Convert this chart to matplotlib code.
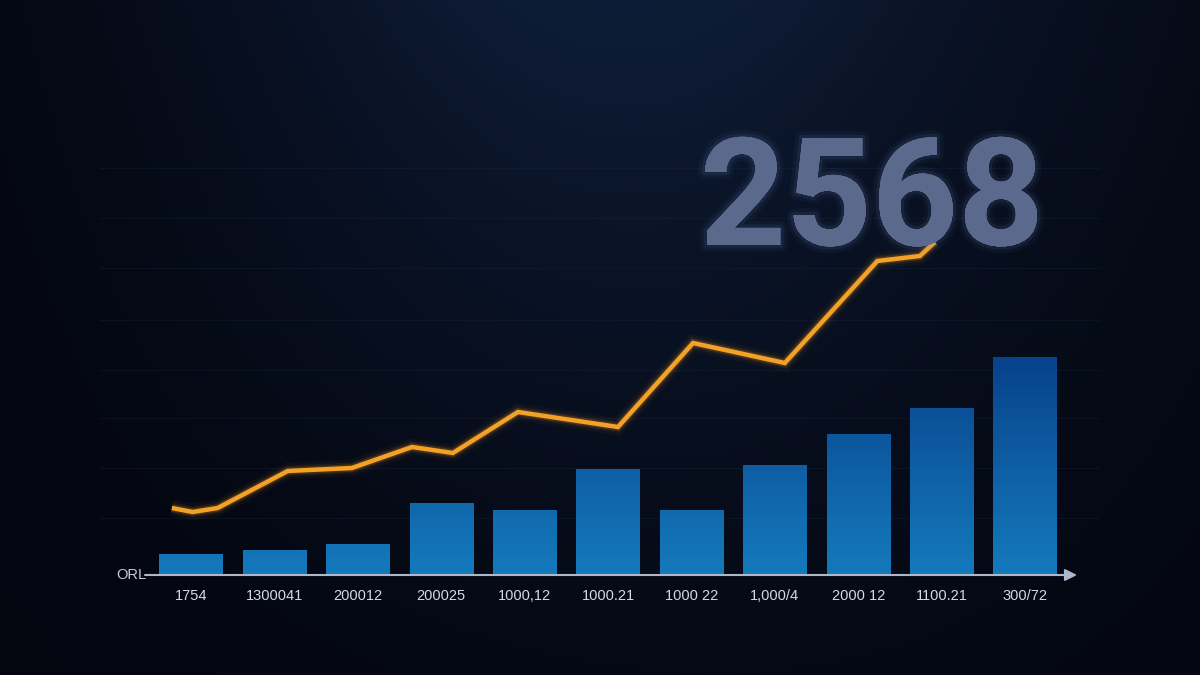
import numpy as np
import matplotlib
matplotlib.use("Agg")
import matplotlib.pyplot as plt
import matplotlib.patheffects as pe

# ---- data ----
categories = ["1754", "1300041", "200012", "200025", "1000,12", "1000.21",
              "1000 22", "1,000/4", "2000 12", "1100.21", "300/72"]
bar_values = [21, 25, 31, 72, 65, 106, 65, 110, 141, 167, 218]
line_x = [-0.23, 0.02, 0.32, 1.16, 1.93, 2.65, 3.14, 3.92, 5.12, 6.02, 7.12, 8.23, 8.74, 8.92]
line_y = [67, 63, 67, 104, 107, 128, 122, 163, 148, 232, 212, 314, 319, 333]
headline = "2568"
axis_label = "ORL"
grid_levels = [57, 107, 157, 205, 255, 307, 357, 407]

W, H = 1200, 675
fig = plt.figure(figsize=(W / 100, H / 100), dpi=100)

# ---- background gradient ----
bg = fig.add_axes([0, 0, 1, 1])
bg.set_axis_off()
yy, xx = np.mgrid[0:1:300j, 0:1:500j]   # yy=0 top
f = np.exp(-((xx - 0.5) / 0.32) ** 2) * (1 - yy) ** 1.3
g = np.exp(-((xx - 0.6) / 0.5) ** 2) * (1 - 0.6 * yy)
dark = np.array([3, 5, 14]) / 255
mid = np.array([8, 15, 30]) / 255
light = np.array([14, 29, 55]) / 255
img = dark[None, None, :] + (mid - dark)[None, None, :] * g[..., None] \
      + (light - mid)[None, None, :] * f[..., None]
bg.imshow(np.clip(img, 0, 1), extent=[0, 1, 0, 1], aspect="auto", origin="upper")
bg.set_xlim(0, 1)
bg.set_ylim(0, 1)

# ---- main axes ----
x_left_px, x_right_px = 100, 1100
base_px, top_px = 575, 100
ax = fig.add_axes([x_left_px / W, (H - base_px) / H,
                   (x_right_px - x_left_px) / W, (base_px - top_px) / H])
ax.patch.set_alpha(0)
step = 83.4
ax.set_xlim((x_left_px - 191) / step, (x_right_px - 191) / step)
ax.set_ylim(0, base_px - top_px)
for s in ax.spines.values():
    s.set_visible(False)
ax.set_yticks(grid_levels)
ax.set_yticklabels([])
ax.tick_params(left=False, bottom=False, labelbottom=False)
ax.grid(axis="y", color="#1c2a42", alpha=0.3, lw=0.8)
ax.set_axisbelow(True)

# bars with vertical gradient
x = np.arange(len(bar_values))
bw = 0.76
bars = ax.bar(x, bar_values, width=bw, color="none", zorder=2)
grad = np.linspace(0, 1, 256)[:, None]
top_c = np.array([8, 66, 140]) / 255
bot_c = np.array([20, 122, 188]) / 255
gimg = top_c[None, None, :] * (1 - grad[..., None]) + bot_c[None, None, :] * grad[..., None]
gmax = max(bar_values)
for b in bars:
    im = ax.imshow(gimg, extent=[b.get_x(), b.get_x() + b.get_width(), 0, gmax],
                   aspect="auto", origin="upper", zorder=2)
    im.set_clip_path(b)

# orange line with glow
for lw, a in [(12, 0.04), (8, 0.08), (5.5, 0.18)]:
    ax.plot(line_x, line_y, color="#f59a1f", lw=lw, alpha=a, solid_joinstyle="miter",
            solid_capstyle="butt", zorder=3)
ax.plot(line_x, line_y, color="#f4a127", lw=3.2, solid_joinstyle="miter",
        solid_capstyle="butt", zorder=4)

# x axis line with arrow
x0 = (145 - 191) / step
x1 = (1077 - 191) / step
ax.annotate("", xy=(x1, 0), xytext=(x0, 0), xycoords="data",
            arrowprops=dict(arrowstyle="-|>,head_length=0.5,head_width=0.25",
                            color="#aeb7c8", lw=1.5,
                            mutation_scale=14, shrinkA=0, shrinkB=0),
            zorder=5, annotation_clip=False)
ax.text(x0 + 0.02, 0, axis_label, ha="right", va="center", color="#c3cad8",
        fontsize=10.5, family="Liberation Sans", clip_on=False)

for i, lab in enumerate(categories):
    ax.text(i, -21, lab, ha="center", va="center", color="#d3d9e6",
            fontsize=10.5, family="Liberation Sans", clip_on=False)

# headline number with glow
fig.text(872 / W, (H - 245) / H, headline, ha="center", va="baseline",
         fontsize=108, fontweight="bold", family="Roboto", style="normal",
         color="#5b6a8c",
         path_effects=[pe.withStroke(linewidth=10, foreground=(0.45, 0.55, 0.8, 0.05)),
                       pe.withStroke(linewidth=5, foreground=(0.45, 0.55, 0.8, 0.10)),
                       pe.Normal()])

fig.savefig("out.png", dpi=100)
